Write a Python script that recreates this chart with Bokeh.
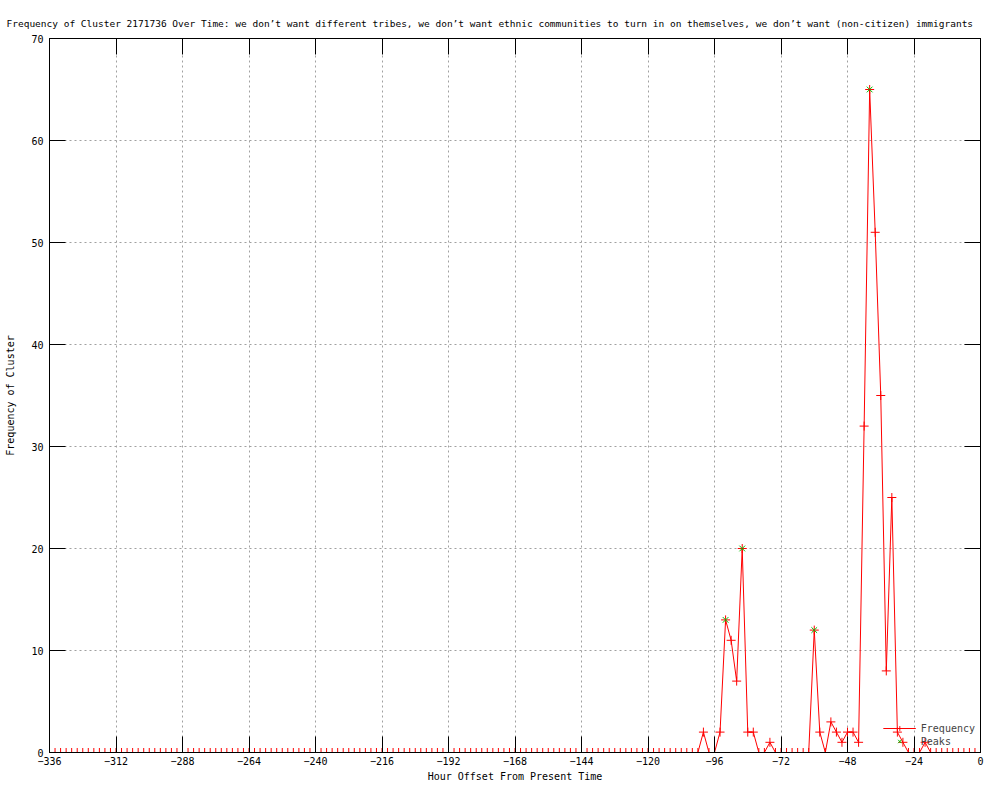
from bokeh.plotting import figure
from bokeh.models import LinearAxis, FixedTicker, Legend, LegendItem, Range1d
from bokeh.embed import file_html
from bokeh.resources import INLINE

TITLE = ("Frequency of Cluster 2171736 Over Time: we don\u2019t want different tribes, "
         "we don\u2019t want ethnic communities to turn in on themselves, "
         "we don\u2019t want (non-citizen) immigrants")
X_LABEL = "Hour Offset From Present Time"
Y_LABEL = "Frequency of Cluster"

# hours before present, one sample every two hours
hours = list(range(-336, 1, 2))

frequency = [
    # -336 .. -102 (118 samples)
    0, 0, 0, 0, 0, 0, 0, 0, 0, 0, 0, 0, 0, 0, 0, 0, 0, 0, 0, 0,
    0, 0, 0, 0, 0, 0, 0, 0, 0, 0, 0, 0, 0, 0, 0, 0, 0, 0, 0, 0,
    0, 0, 0, 0, 0, 0, 0, 0, 0, 0, 0, 0, 0, 0, 0, 0, 0, 0, 0, 0,
    0, 0, 0, 0, 0, 0, 0, 0, 0, 0, 0, 0, 0, 0, 0, 0, 0, 0, 0, 0,
    0, 0, 0, 0, 0, 0, 0, 0, 0, 0, 0, 0, 0, 0, 0, 0, 0, 0, 0, 0,
    0, 0, 0, 0, 0, 0, 0, 0, 0, 0, 0, 0, 0, 0, 0, 0, 0, 0,
    # -100 .. -82
    2, 0, 0, 2, 13, 11, 7, 20, 2, 2,
    # -80 .. -62
    0, 0, 1, 0, 0, 0, 0, 0, 0, 0,
    # -60 .. -42
    12, 2, 0, 3, 2, 1, 2, 2, 1, 32,
    # -40 .. -22
    65, 51, 35, 8, 25, 2, 1, 0, 0, 0,
    # -20 .. 0
    1, 0, 0, 0, 0, 0, 0, 0, 0, 0, 0,
]

peak_hours = [-92, -86, -60, -40]
peak_values = [13, 20, 12, 65]

x_ticks = [-336, -312, -288, -264, -240, -216, -192, -168, -144, -120, -96, -72, -48, -24, 0]
y_ticks = [0, 10, 20, 30, 40, 50, 60, 70]

FONT = "DejaVu Sans Mono"
RED = "#ff0000"
GREEN = "#00c000"
GRID = "#a0a0a0"

p = figure(width=984, height=784, output_backend="svg", toolbar_location=None,
           x_range=Range1d(-336, 0), y_range=Range1d(0, 70),
           min_border_left=49, min_border_right=4, min_border_top=38,
           min_border_bottom=31, background_fill_color="white",
           border_fill_color="white")

p.outline_line_color = "black"
p.outline_line_width = 1

p.title.text = TITLE
p.title.align = "left"
p.title.offset = -43
p.title.standoff = 20
p.title.text_font = FONT
p.title.text_font_size = "9.5px"
p.title.text_font_style = "normal"
p.title.text_color = "black"


def style_axis(ax, show_labels):
    ax.major_tick_in = 16
    ax.major_tick_out = 0
    ax.minor_tick_in = 0
    ax.minor_tick_out = 0
    ax.major_tick_line_color = "black"
    ax.major_tick_line_width = 1
    ax.axis_line_color = "black"
    ax.axis_line_width = 1
    ax.major_label_text_font = FONT
    if show_labels:
        ax.major_label_text_font_size = "10px"
        ax.major_label_text_color = "black"
    else:
        ax.major_label_text_font_size = "1px"
        ax.major_label_text_color = None
        ax.major_label_standoff = 0
    ax.axis_label_text_font = FONT
    ax.axis_label_text_font_size = "10px"
    ax.axis_label_text_font_style = "normal"
    ax.axis_label_text_color = "black"


xt = FixedTicker(ticks=x_ticks)
yt = FixedTicker(ticks=y_ticks)

xaxis = p.xaxis[0]
xaxis.ticker = xt
style_axis(xaxis, True)
xaxis.major_label_standoff = 4
xaxis.axis_label = X_LABEL
xaxis.axis_label_standoff = 3

yaxis = p.yaxis[0]
yaxis.ticker = yt
style_axis(yaxis, True)
yaxis.major_label_standoff = 6
yaxis.axis_label = Y_LABEL
yaxis.axis_label_standoff = 12

top = LinearAxis(ticker=FixedTicker(ticks=x_ticks))
style_axis(top, False)
p.add_layout(top, "above")

right = LinearAxis(ticker=FixedTicker(ticks=y_ticks))
style_axis(right, False)
p.add_layout(right, "right")

p.xgrid.ticker = xt
p.ygrid.ticker = yt
for g in (p.xgrid[0], p.ygrid[0]):
    g.grid_line_color = GRID
    g.grid_line_dash = "2 3"
    g.grid_line_width = 1

line_r = p.line(hours, frequency, line_color=RED, line_width=1)
cross_r = p.scatter(hours, frequency, marker="cross", size=9,
                    line_color=RED, line_width=1)
peak_r = p.scatter(peak_hours, peak_values, marker="x", size=8,
                   line_color=GREEN, line_width=1)

legend = Legend(items=[LegendItem(label="Frequency", renderers=[line_r, cross_r]),
                       LegendItem(label="Peaks", renderers=[peak_r])],
                location="bottom_right",
                background_fill_alpha=0, border_line_color=None,
                label_text_font=FONT, label_text_font_size="10px",
                glyph_width=33, glyph_height=12, label_height=12,
                spacing=1, padding=2, margin=5)
p.add_layout(legend)

open("out.html", "w").write(file_html(p, INLINE))
